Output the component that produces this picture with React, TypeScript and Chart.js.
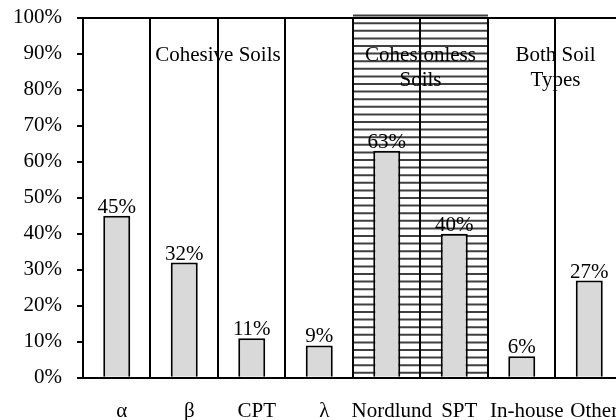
import React, { useEffect, useRef } from "react";
import { Chart, registerables } from "chart.js";

Chart.register(...registerables);

const categories = ["α", "β", "CPT", "λ", "Nordlund", "SPT", "In-house", "Other"];
const shares = [0.45, 0.32, 0.11, 0.09, 0.63, 0.4, 0.06, 0.27];
const groupTexts = [["Cohesive Soils"], ["Cohesionless", "Soils"], ["Both Soil", "Types"]];
const groupPositions = [1.5, 4.5, 6.5];
const groupValueY = 0.895;
const hatchFrom = 3.5;
const hatchTo = 5.5;

const FONT = "'Liberation Serif', 'Times New Roman', serif";
const FS = 21;

const hatchPlugin = {
  id: "hatch",
  beforeDraw(chart: any) {
    const { ctx, chartArea } = chart;
    const xs = chart.scales.x;
    const x0 = xs.getPixelForValue(hatchFrom);
    const x1 = xs.getPixelForValue(hatchTo);
    ctx.save();
    ctx.strokeStyle = "#404040";
    ctx.lineWidth = 2;
    for (let y = chartArea.bottom - 5; y >= chartArea.top - 3; y -= 7.6) {
      ctx.beginPath();
      ctx.moveTo(x0, y);
      ctx.lineTo(x1, y);
      ctx.stroke();
    }
    ctx.restore();
  },
};

const labelPlugin = {
  id: "labels",
  afterDatasetsDraw(chart: any) {
    const { ctx } = chart;
    const meta = chart.getDatasetMeta(0);
    ctx.save();
    ctx.font = `${FS}px ${FONT}`;
    ctx.fillStyle = "#000";
    ctx.textAlign = "center";
    ctx.textBaseline = "alphabetic";
    meta.data.forEach((el: any, i: number) => {
      ctx.fillText(`${Math.round(shares[i] * 100)}%`, el.x, el.y - 3);
    });
    const xs = chart.scales.x;
    const ys = chart.scales.y;
    ctx.textBaseline = "middle";
    groupTexts.forEach((lines, gi) => {
      const x = xs.getPixelForValue(groupPositions[gi]);
      const y0 = ys.getPixelForValue(groupValueY);
      lines.forEach((t, li) => ctx.fillText(t, x, y0 + li * 25));
    });
    ctx.restore();
  },
};

export default function App() {
  const ref = useRef<HTMLCanvasElement>(null);
  useEffect(() => {
    if (!ref.current) return;
    const chart = new Chart(ref.current, {
      type: "bar",
      data: {
        labels: categories,
        datasets: [
          {
            data: shares,
            backgroundColor: "#d9d9d9",
            borderColor: "#000",
            borderWidth: 2,
            barPercentage: 0.4,
            categoryPercentage: 1,
          },
        ],
      },
      options: {
        responsive: false,
        animation: false,
        devicePixelRatio: 1,
        layout: { padding: { left: 0, top: 7, right: 15, bottom: 0 } },
        plugins: { legend: { display: false }, tooltip: { enabled: false } },
        scales: {
          x: {
            grid: { offset: true, color: "#000", lineWidth: 2, drawTicks: false },
            border: { display: true, color: "#000", width: 2 },
            ticks: {
              color: "#000",
              font: { family: FONT, size: FS },
              padding: 21,
              labelOffset: 5,
              autoSkip: false,
              maxRotation: 0,
            },
          },
          y: {
            min: 0,
            max: 1,
            grid: {
              color: (c: any) => (c.tick && Math.abs(c.tick.value - 1) < 1e-9 ? "#000" : "rgba(0,0,0,0)"),
              lineWidth: 2,
              tickColor: "#000",
              tickLength: 6,
            },
            border: { display: true, color: "#000", width: 2 },
            ticks: {
              stepSize: 0.1,
              color: "#000",
              font: { family: FONT, size: FS },
              padding: 15,
              callback: (v: any) => `${Math.round(Number(v) * 100)}%`,
            },
          },
        },
      },
      plugins: [hatchPlugin, labelPlugin],
    });
    return () => chart.destroy();
  }, []);
  return (
    <div style={{ position: "absolute", left: 0, top: 0, width: 616, height: 420, overflow: "hidden" }}>
      <canvas ref={ref} width={640} height={455} style={{ display: "block", marginLeft: -2, marginTop: -10 }} />
    </div>
  );
}
